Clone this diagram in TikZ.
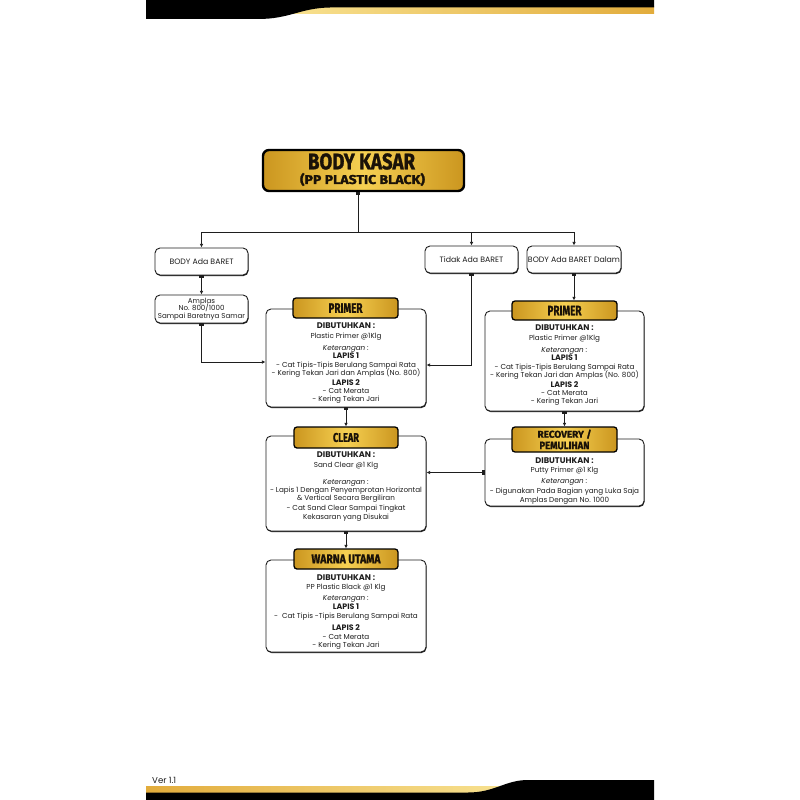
\documentclass[tikz,border=0pt]{standalone}
\usepackage{fontspec}
\setmainfont{Poppins}
\newfontfamily\headf{Fira Sans}[BoldFeatures={FakeBold=1.5}]
\usetikzlibrary{arrows.meta,calc,shadows}
\definecolor{ink}{HTML}{1E1E1E}
\definecolor{headink}{HTML}{1A1208}
\definecolor{goldL}{HTML}{F6D052}
\definecolor{goldD}{HTML}{CB961F}
\definecolor{stripL}{HTML}{F8E291}
\definecolor{stripD}{HTML}{E2AC3C}
\newcommand\hd[1]{{\fontsize{8.2}{8}\selectfont\bfseries #1}}
\newcommand\lp[1]{{\fontsize{7.9}{8}\selectfont\bfseries #1}}
\newcommand\kt{{\itshape Keterangan :}}
\newcommand\hl[3]{\resizebox{#1pt}{#2pt}{\headf\bfseries #3}}
\tikzset{
 card/.style={draw=ink, line width=0.9pt, rounded corners=5pt, fill=white, inner sep=0pt,
   drop shadow={shadow xshift=0.5pt, shadow yshift=-1pt, fill=ink, opacity=1}},
 goldlabel/.style={draw=black, line width=1.3pt, rounded corners=3pt, left color=goldD, right color=goldD, middle color=goldL, inner sep=0pt, text=headink},
 smallbox/.style={card, align=center, text=ink, font=\fontsize{7.8}{7.6}\selectfont},
 txt/.style={anchor=north, align=center, inner sep=0pt, text=ink, font=\fontsize{7.2}{8}\selectfont},
 conn/.style={draw=ink, line width=0.8pt, {Rectangle[length=2.2pt,width=4.5pt]}-{Latex[length=3.6pt,width=3.6pt]}},
 nubline/.style={draw=ink, line width=0.8pt, {Rectangle[length=2.2pt,width=4.5pt]}-},
 arr/.style={draw=ink, line width=0.8pt, -{Latex[length=3.6pt,width=3.6pt]}},
}
\begin{document}
\lineskiplimit=-6pt\relax
\begin{tikzpicture}[x=1pt,y=-1pt]
\fill[white] (0,0) rectangle (800,800);
\useasboundingbox (0,0) rectangle (800,800);
% top band
\shade[left color=stripL, right color=stripD] (280,6.5) rectangle (654,13.5);
\fill[black] (146,0) -- (654,0) -- (654,7.5) -- (330,7.5) .. controls (300,8) and (290,19) .. (258,19) -- (146,19) -- cycle;
% bottom band
\shade[left color=stripD, right color=stripL] (146,786.5) rectangle (510,793);
\fill[black] (146,800) -- (654,800) -- (654,780) -- (528,780) .. controls (505,780) and (495,792.5) .. (468,792.5) -- (146,792.5) -- cycle;
\node[anchor=west, inner sep=0pt, text=ink, font=\fontsize{8.6}{9}\selectfont] (ver) at (152,780.5) {Ver 1.1};

% title
\node[draw=black, line width=2.4pt, rounded corners=6pt, left color=goldD, right color=goldD, middle color=goldL, inner sep=0pt, minimum width=201, minimum height=41] (title) at (363.5,170.5) {};
\node[inner sep=0pt, text=headink] (t1) at (361.5,161.5) {\hl{107}{16}{BODY KASAR}};
\node[inner sep=0pt, text=headink] (t2) at (362.5,179.5) {\hl{125}{11}{(PP PLASTIC BLACK)}};

% small boxes
\node[smallbox, minimum width=93, minimum height=27] (bodybaret) at (201.5,261.5) {BODY Ada BARET};
\node[smallbox, minimum width=93, minimum height=28, font=\fontsize{7.1}{7.4}\selectfont] (amplas) at (201.5,309) {Amplas\\No. 800/1000\\Sampai Baretnya Samar};
\node[smallbox, minimum width=93, minimum height=27] (tidak) at (471.5,259.5) {Tidak Ada BARET};
\node[smallbox, minimum width=94, minimum height=27] (dalam) at (574,259.5) {BODY Ada BARET Dalam};

% big cards
\node[card, minimum width=160, minimum height=98] (primerLbox) at (346,358) {};
\node[card, minimum width=159, minimum height=100] (primerRbox) at (564.5,361) {};
\node[card, minimum width=160, minimum height=95] (clearbox) at (346,483.5) {};
\node[card, minimum width=159, minimum height=67] (recovbox) at (564.5,472.5) {};
\node[card, minimum width=160, minimum height=92] (warnabox) at (346,606) {};

% labels
\node[goldlabel, minimum width=105, minimum height=20] (primerLlab) at (345.5,308) {\hl{34}{9.5}{PRIMER}};
\node[goldlabel, minimum width=105, minimum height=19] (primerRlab) at (564.5,310.5) {\hl{34}{9.5}{PRIMER}};
\node[goldlabel, minimum width=104, minimum height=21] (clearlab) at (346,437.5) {\hl{26}{9}{CLEAR}};
\node[goldlabel, minimum width=105, minimum height=25, align=center] (recovlab) at (564.5,439.5) {\hl{54}{8}{RECOVERY /}\\[-0.5pt]\hl{50}{7.5}{PEMULIHAN}};
\node[goldlabel, minimum width=104, minimum height=20] (warnalab) at (346,559) {\hl{69}{9}{WARNA UTAMA}};

% texts
\node[txt] (primerLtxt) at (346,323) {\hd{DIBUTUHKAN :}\\[2pt] Plastic Primer @1Klg\\[4pt] \kt\\ \lp{LAPIS 1}\\[1pt] - Cat Tipis-Tipis Berulang Sampai Rata\\ - Kering Tekan Jari dan Amplas (No. 800)\\[2pt] \lp{LAPIS 2}\\ - Cat Merata\\ - Kering Tekan Jari};
\node[txt] (primerRtxt) at (564.5,325) {\hd{DIBUTUHKAN :}\\[2pt] Plastic Primer @1Klg\\[4pt] \kt\\ \lp{LAPIS 1}\\[1pt] - Cat Tipis-Tipis Berulang Sampai Rata\\ - Kering Tekan Jari dan Amplas (No. 800)\\[2pt] \lp{LAPIS 2}\\ - Cat Merata\\ - Kering Tekan Jari};
\node[txt] (cleartxt) at (346,452) {\hd{DIBUTUHKAN :}\\[2pt] Sand Clear @1 Klg\\[9pt] \kt\\ - Lapis 1 Dengan Penyemprotan Horizontal\\ \& Vertical Secara Bergiliran\\[2pt] - Cat Sand Clear Sampai Tingkat\\[1pt] Kekasaran yang Disukai};
\node[txt] (recovtxt) at (564.5,458) {\hd{DIBUTUHKAN :}\\[1pt] Putty Primer @1 Klg\\[3pt] \kt\\[2pt] - Digunakan Pada Bagian yang Luka Saja\\[1pt] Amplas Dengan No. 1000};
\node[txt] (warnatxt) at (346,575) {\hd{DIBUTUHKAN :}\\[1pt] PP Plastic Black @1 Klg\\[3pt] \kt\\[1pt] \lp{LAPIS 1}\\[1pt] -\ \ Cat Tipis -Tipis Berulang Sampai Rata\\[4pt] \lp{LAPIS 2}\\[1pt] - Cat Merata\\ - Kering Tekan Jari};

% connectors
\coordinate (j0) at (358,232);
\coordinate (ja) at (202,362);
\coordinate (jt) at (471,365);
\draw[nubline] (title.south -| j0) -- (j0);
\draw[arr] (j0) -| (bodybaret.north);
\draw[arr] (j0) -| (dalam.north);
\draw[arr] (tidak.north |- j0) -- (tidak.north);
\draw[conn] (bodybaret.south) -- (amplas.north);
\draw[conn] (amplas.south) |- (primerLbox.west |- ja);
\draw[conn] (tidak.south) |- (primerLbox.east |- jt);
\draw[conn] (dalam.south) -- (dalam.south |- primerRlab.north);
\draw[conn] (primerLbox.south) -- (clearlab.north);
\draw[conn] (primerRbox.south) -- (recovlab.north);
\draw[conn] (recovbox.west) -- (clearbox.east |- recovbox.west);
\draw[conn] (clearbox.south) -- (warnalab.north);
\end{tikzpicture}
\end{document}
